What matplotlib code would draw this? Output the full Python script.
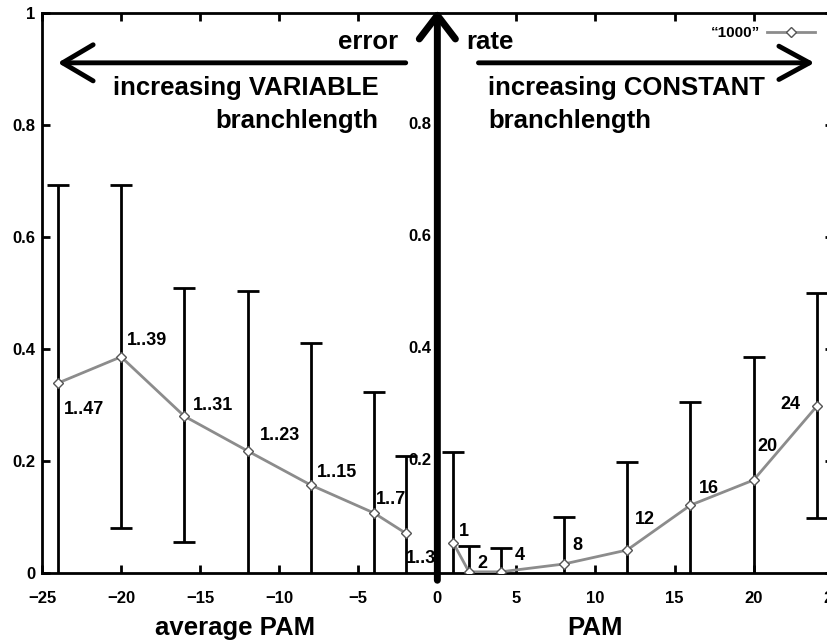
import matplotlib
matplotlib.use('Agg')
import matplotlib.pyplot as plt

plt.rcParams['font.family'] = ['Liberation Sans', 'DejaVu Sans']
plt.rcParams['font.weight'] = 'bold'

# variable branchlength runs (plotted at negative average PAM)
var_pam = [-24, -20, -16, -12, -8, -4, -2]
var_err = [0.339, 0.386, 0.280, 0.218, 0.157, 0.107, 0.071]
var_low = [-0.05, 0.080, 0.055, -0.05, -0.05, -0.05, -0.05]
var_high = [0.693, 0.693, 0.509, 0.504, 0.410, 0.323, 0.209]
var_labels = ['1..47', '1..39', '1..31', '1..23', '1..15', '1..7', '1..3']

# constant branchlength runs
const_pam = [1, 2, 4, 8, 12, 16, 20, 24]
const_err = [0.054, 0.002, 0.002, 0.016, 0.041, 0.121, 0.166, 0.298]
const_low = [-0.05, -0.05, -0.05, -0.05, -0.05, -0.05, -0.05, 0.098]
const_high = [0.216, 0.048, 0.045, 0.100, 0.198, 0.305, 0.386, 0.500]
const_labels = ['1', '2', '4', '8', '12', '16', '20', '24']

xticks = [-25, -20, -15, -10, -5, 0, 5, 10, 15, 20, 25]
yticks = [0, 0.2, 0.4, 0.6, 0.8, 1]
right_yticks = [0.2, 0.4, 0.6, 0.8]

# label offsets in points
var_off = [(19, -19), (19, 12), (21, 8), (23, 11), (19, 9), (12, 10), (11, -18)]
const_off = [(8, 8), (10, 6), (14, 12), (10, 13), (13, 22), (13, 12), (10, 24), (-19, 1)]

fig = plt.figure(figsize=(8.28, 6.43), dpi=100)
ax = fig.add_axes([0.0507, 0.1089, 0.955, 0.8709])

line_col = '#8c8c8c'
for xs, ys, lo, hi in [(var_pam, var_err, var_low, var_high),
                       (const_pam, const_err, const_low, const_high)]:
    yerr = [[y - l for y, l in zip(ys, lo)], [h - y for y, h in zip(ys, hi)]]
    ax.errorbar(xs, ys, yerr=yerr, fmt='none', ecolor='black', elinewidth=2,
                capsize=8, capthick=2, zorder=2)

ax.plot(var_pam, var_err, color=line_col, lw=2, marker='D', ms=5.5,
        mfc='white', mec='#555555', mew=1, zorder=3, label='\u201c1000\u201d')
ax.plot(const_pam, const_err, color=line_col, lw=2, marker='D', ms=5.5,
        mfc='white', mec='#555555', mew=1, zorder=3)

for x, y, t, off in zip(var_pam, var_err, var_labels, var_off):
    ax.annotate(t, (x, y), xytext=off, textcoords='offset points',
                ha='center', va='center', fontsize=13, fontweight='bold', zorder=4)
for x, y, t, off in zip(const_pam, const_err, const_labels, const_off):
    ax.annotate(t, (x, y), xytext=off, textcoords='offset points',
                ha='center', va='center', fontsize=13, fontweight='bold', zorder=4)

ax.set_xlim(-25, 25)
ax.set_ylim(0, 1)
ax.set_xticks(xticks)
ax.set_yticks(yticks)
ax.set_yticklabels(['0', '0.2', '0.4', '0.6', '0.8', '1'])
ax.tick_params(direction='in', length=6, width=2, top=True, right=True,
               labelsize=12)
ax.tick_params(axis='x', pad=13)
ax.tick_params(axis='y', pad=5)
for s in ax.spines.values():
    s.set_linewidth(2)

# y tick labels of the right-hand panel
for v in right_yticks:
    ax.text(-0.35, v, f'{v:.1f}', ha='right', va='center', fontsize=12,
            fontweight='bold', zorder=4)

# thick vertical axis with arrow
ax.annotate('', xy=(0, 1.006), xytext=(0, -0.013), annotation_clip=False,
            arrowprops=dict(arrowstyle='->,head_length=1.7,head_width=1.3',
                            lw=5, color='black', shrinkA=0, shrinkB=0,
                            mutation_scale=10), zorder=5)
# horizontal arrows
ax.annotate('', xy=(-24.0, 0.911), xytext=(-2.0, 0.911),
            arrowprops=dict(arrowstyle='->,head_length=2.2,head_width=1.3',
                            lw=3.5, color='black', shrinkA=0, shrinkB=0,
                            mutation_scale=10))
ax.annotate('', xy=(23.85, 0.911), xytext=(2.6, 0.911),
            arrowprops=dict(arrowstyle='->,head_length=2.2,head_width=1.2',
                            lw=3.5, color='black', shrinkA=0, shrinkB=0,
                            mutation_scale=10))

ax.text(-2.5, 0.948, 'error', ha='right', va='center', fontsize=18.5)
ax.text(1.85, 0.948, 'rate', ha='left', va='center', fontsize=18.5)
ax.text(-3.7, 0.866, 'increasing VARIABLE', ha='right', va='center', fontsize=18.5)
ax.text(-3.7, 0.808, 'branchlength', ha='right', va='center', fontsize=18.5)
ax.text(3.2, 0.866, 'increasing CONSTANT', ha='left', va='center', fontsize=18.5)
ax.text(3.2, 0.808, 'branchlength', ha='left', va='center', fontsize=18.5)

ax.text(-12.8, -0.098, 'average PAM', ha='center', va='center', fontsize=18.5,
        clip_on=False)
ax.text(10.0, -0.098, 'PAM', ha='center', va='center', fontsize=18.5,
        clip_on=False)

ax.legend(loc='center right', bbox_to_anchor=((815 - 42) / 791, 0.964),
          frameon=False, markerfirst=False, handlelength=3.1, fontsize=11,
          borderpad=0, borderaxespad=0, handletextpad=0.5)

fig.savefig('out.png', dpi=100)
